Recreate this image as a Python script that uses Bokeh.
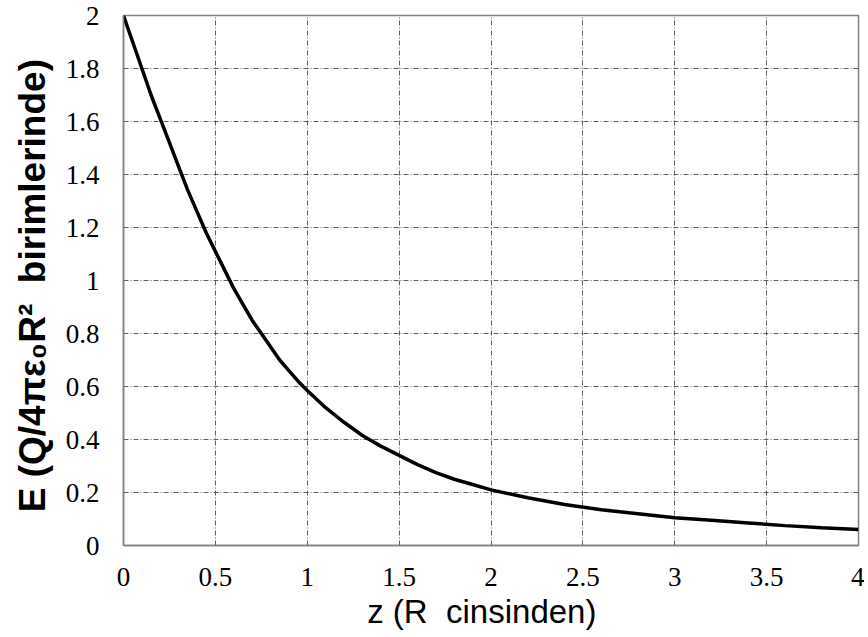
from bokeh.plotting import figure
from bokeh.embed import file_html
from bokeh.resources import INLINE
from bokeh.models import FixedTicker, Range1d

z_vals = [0.0, 0.05, 0.1, 0.15, 0.2, 0.25, 0.3, 0.35, 0.4, 0.45, 0.5, 0.55, 0.6, 0.65,
          0.7, 0.75, 0.8, 0.85, 0.9, 0.95, 1.0, 1.1, 1.2, 1.3, 1.4, 1.5, 1.6, 1.7, 1.8,
          1.9, 2.0, 2.2, 2.4, 2.6, 2.8, 3.0, 3.2, 3.4, 3.6, 3.8, 4.0]
e_vals = [2.00, 1.90, 1.80, 1.70, 1.61, 1.52, 1.43, 1.34, 1.26, 1.18, 1.11, 1.04, 0.97,
          0.91, 0.85, 0.80, 0.75, 0.70, 0.66, 0.62, 0.585, 0.52, 0.465, 0.415, 0.375,
          0.34, 0.305, 0.275, 0.25, 0.23, 0.21, 0.18, 0.155, 0.135, 0.12, 0.105, 0.095,
          0.085, 0.075, 0.067, 0.06]
x_ticks = [0, 0.5, 1, 1.5, 2, 2.5, 3, 3.5, 4]
y_ticks = [0, 0.2, 0.4, 0.6, 0.8, 1, 1.2, 1.4, 1.6, 1.8, 2]
x_title = "z (R\u00a0 cinsinden)\u00a0\u00a0"
y_title = "E (Q/4\u03c0\u03b5\u2080R\u00b2\u00a0 birimlerinde)\u00a0"

p = figure(width=864, height=633, output_backend="svg", toolbar_location=None,
           x_range=Range1d(0, 4), y_range=Range1d(0, 2),
           min_border_left=123, min_border_right=6, min_border_top=15, min_border_bottom=88)
p.background_fill_color = "white"
p.border_fill_color = "white"
p.outline_line_color = "#808080"
p.outline_line_width = 1.5

p.line(z_vals, e_vals, line_color="black", line_width=3.5)

for ax in (p.xaxis, p.yaxis):
    ax.major_label_text_font = "Liberation Serif"
    ax.major_label_text_font_size = "27px"
    ax.major_label_text_color = "black"
    ax.major_tick_out = 0
    ax.major_tick_in = 0
    ax.minor_tick_out = 0
    ax.minor_tick_in = 0
    ax.axis_line_color = "#808080"
    ax.axis_line_width = 1.5

p.xaxis.ticker = FixedTicker(ticks=x_ticks)
p.yaxis.ticker = FixedTicker(ticks=y_ticks)
p.xaxis.major_label_overrides = {t: ("%g" % t) for t in x_ticks}
p.yaxis.major_label_overrides = {t: ("%g" % t) for t in y_ticks}
p.xaxis.major_label_standoff = 22
p.yaxis.major_label_standoff = 24

p.xaxis.axis_label = x_title
p.xaxis.axis_label_text_font = "Liberation Sans"
p.xaxis.axis_label_text_font_style = "normal"
p.xaxis.axis_label_text_font_size = "33px"
p.xaxis.axis_label_text_color = "black"
p.xaxis.axis_label_standoff = 4

p.yaxis.axis_label = y_title
p.yaxis.axis_label_text_font = "Liberation Sans"
p.yaxis.axis_label_text_font_style = "bold"
p.yaxis.axis_label_text_font_size = "37px"
p.yaxis.axis_label_text_color = "black"
p.yaxis.axis_label_standoff = 10

for g in (p.xgrid, p.ygrid):
    g.grid_line_color = "#444444"
    g.grid_line_dash = "5 2 1 2"
    g.grid_line_width = 1
    g.grid_line_alpha = 0.85

open("out.html", "w").write(file_html(p, INLINE))
